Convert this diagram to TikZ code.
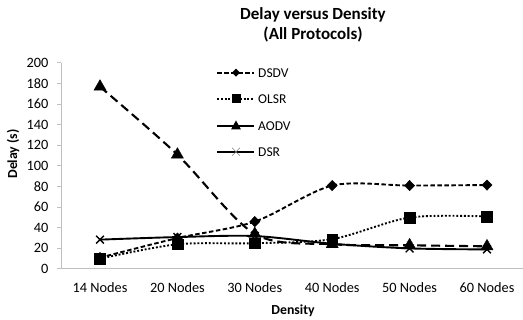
\documentclass[tikz,border=0pt]{standalone}
\usepackage{fontspec}
\setmainfont{Carlito}
\usetikzlibrary{plotmarks}
\definecolor{axisgray}{HTML}{BFBFBF}
\tikzset{
  ticklab/.style={font=\fontsize{14.3}{16}\selectfont, inner sep=0pt},
  leglab/.style={font=\fontsize{13.5}{15}\selectfont, inner sep=0pt, anchor=west},
  axtitle/.style={font=\bfseries\fontsize{13.8}{15}\selectfont, inner sep=0pt},
  dsdv/.style={line width=1.9pt, dash pattern=on 4.5pt off 2.5pt, mark=diamond*, mark size=5.2pt, mark options={solid, xscale=1.3, line width=0.4pt}},
  olsr/.style={line width=1.9pt, dash pattern=on 1.9pt off 1.9pt, mark=square*, mark size=5.4pt, mark options={solid, line width=0.4pt}},
  aodv/.style={line width=2.1pt, dash pattern=on 9pt off 5pt, mark=triangle*, mark size=7pt, mark options={solid, line width=0.4pt}},
  dsr/.style={line width=1.9pt, solid, mark=x, mark size=5.5pt, mark options={solid, line width=1.4pt}},
}
\begin{document}
\begin{tikzpicture}[x=1pt,y=1pt]
\useasboundingbox (0,0) rectangle (523,320);
% title
\node[font=\bfseries\fontsize{17}{20}\selectfont, align=center, inner sep=0pt] (title) at (313,295) {Delay versus Density\\[0.5pt](All Protocols)};
% axes
\coordinate (o) at (61,51);
\coordinate (xe) at (523,51);
\coordinate (ye) at (61,257);
\draw[axisgray, line width=1pt] (xe) -- (o) -- (ye);
\foreach \v in {0,20,...,200}{
  \draw[axisgray, line width=1pt] (57,51+1.03*\v) -- (61,51+1.03*\v);
  \node[ticklab, anchor=east] (yl\v) at (48.5,51+1.03*\v) {\v};
}
\foreach \n [count=\i from 0] in {14,20,30,40,50,60}{
  \node[ticklab] (xl\n) at (100+77.4*\i,32.5) {\n\ Nodes};
}
\node[axtitle] (xtitle) at (293,9) {Density};
\node[axtitle, rotate=90] (ytitle) at (13,166) {Delay (s)};
% data
\begin{scope}[xshift=100pt, yshift=51pt, x=77.4pt, y=1.03pt]
\draw[dsdv] plot[smooth, tension=0.5] coordinates {(0,11) (1,30) (2,46) (3,81) (4,81) (5,81.5)};
\draw[olsr] plot[smooth, tension=0.5] coordinates {(0,10) (1,24) (2,25) (3,29) (4,50) (5,51)};
\draw[aodv] plot[smooth, tension=0.5] coordinates {(0,177) (1,111) (2,34) (3,24) (4,23) (5,22)};
\draw[dsr] plot[smooth, tension=0.5] coordinates {(0,28.5) (1,31) (2,32) (3,24.5) (4,20) (5,19)};
\end{scope}
% legend
\draw[line width=1.9pt, dash pattern=on 4.5pt off 2.5pt] (217,247.3) -- (254,247.3);
\fill (236,251.3) -- (240,247.3) -- (236,243.3) -- (232,247.3) -- cycle;
\node[leglab] (l1) at (258,247.3) {DSDV};
\draw[line width=1.9pt, dash pattern=on 1.9pt off 1.9pt] (217,221) -- (254,221);
\fill (231.5,216.5) rectangle (240.5,225.5);
\node[leglab] (l2) at (258,221) {OLSR};
\draw[line width=1.9pt] (217,194) -- (254,194);
\fill (236,199.5) -- (241,190.5) -- (231,190.5) -- cycle;
\node[leglab] (l3) at (258,194) {AODV};
\draw[line width=1.9pt] (217,168.3) -- (254,168.3);
\draw[gray, line width=0.6pt] (232,164.3) -- (240,172.3) (232,172.3) -- (240,164.3);
\node[leglab] (l4) at (258,168.3) {DSR};
\end{tikzpicture}
\end{document}
